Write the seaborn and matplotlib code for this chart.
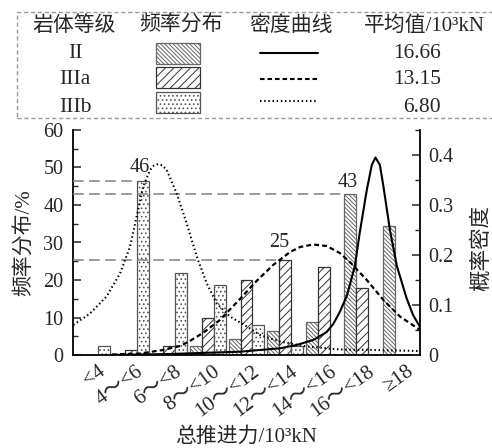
import numpy as np
import pandas as pd
import matplotlib
matplotlib.use('Agg')
import matplotlib.pyplot as plt
from matplotlib.patches import Rectangle
from matplotlib.lines import Line2D
import seaborn as sns

# ---------------- data ----------------
categories = ['<4', '4～<6', '6～<8', '8～<10', '10～<12', '12～<14', '14～<16', '16～<18', '≥18']
grades = ['II', 'IIIa', 'IIIb']
freq_II = [0, 0, 0, 2.5, 4.2, 6.4, 8.7, 42.8, 34.4]
freq_IIIa = [0, 1.3, 2.3, 9.9, 20.0, 25.3, 23.4, 17.8, 0]
freq_IIIb = [2.5, 46.4, 21.8, 18.8, 8.0, 2.4, 0, 0, 0]
mean_values = ['16.66', '13.15', '6.80']

# density curves (x in category-index units)
curve_II_x = [0.51, 2.02, 2.79, 3.83, 4.35, 4.87, 5.30, 5.73, 6.08, 6.25, 6.42, 6.60, 6.68,
              6.81, 6.94, 7.12, 7.25, 7.345, 7.46, 7.55, 7.72, 7.90, 8.15, 8.32, 8.50]
curve_II_y = [0.000, 0.002, 0.004, 0.0066, 0.010, 0.0134, 0.020, 0.030, 0.046, 0.062, 0.086,
              0.118, 0.140, 0.178, 0.246, 0.330, 0.380, 0.395, 0.380, 0.338, 0.250, 0.178,
              0.114, 0.080, 0.056]
curve_IIIa_x = [0.51, 1.24, 1.83, 2.28, 2.53, 2.87, 3.31, 3.83, 4.26, 4.69, 5.13, 5.39,
                5.73, 6.08, 6.42, 6.68, 7.12, 7.55, 7.98, 8.50]
curve_IIIa_y = [0.001, 0.003, 0.010, 0.018, 0.028, 0.044, 0.070, 0.112, 0.148, 0.180, 0.206,
                0.216, 0.221, 0.218, 0.204, 0.186, 0.150, 0.110, 0.077, 0.050]
curve_IIIb_x = [-0.49, -0.06, 0.37, 0.72, 0.98, 1.15, 1.32, 1.50, 1.60, 1.71, 1.82, 1.93,
                2.19, 2.45, 2.71, 2.97, 3.23, 3.57, 4.01, 4.35, 4.87, 5.56, 6.42, 7.28, 8.50]
curve_IIIb_y = [0.060, 0.083, 0.117, 0.163, 0.217, 0.277, 0.337, 0.370, 0.379, 0.382, 0.379,
                0.370, 0.323, 0.263, 0.197, 0.143, 0.103, 0.077, 0.057, 0.040, 0.027, 0.017,
                0.011, 0.010, 0.008]

# ---------------- style ----------------
sns.set_style('ticks')
plt.rcParams['font.family'] = ['Liberation Serif', 'Noto Sans CJK SC', 'DejaVu Sans']
plt.rcParams['hatch.linewidth'] = 0.7
plt.rcParams['axes.unicode_minus'] = False

W, H = 492, 448
fig = plt.figure(figsize=(W / 100, H / 100), dpi=100)
ax = fig.add_axes([73 / W, 1 - 355 / H, 347 / W, 225 / H])

df = pd.DataFrame({
    'cat': np.repeat(categories, 3),
    'grade': grades * len(categories),
    'val': np.ravel(np.column_stack([freq_II, freq_IIIa, freq_IIIb])),
})

sns.barplot(data=df, x='cat', y='val', hue='grade', order=categories, hue_order=grades,
            palette=['white'] * 3, width=0.93, gap=0, edgecolor='#444444', linewidth=0.9,
            legend=False, ax=ax, zorder=2)

hatches = {'II': '\\\\\\\\\\\\\\\\', 'IIIa': '////', 'IIIb': '....'}
hatch_colors = {'II': '#6a6a6a', 'IIIa': '#222222', 'IIIb': '#444444'}
edge_colors = {'II': '#666666', 'IIIa': '#333333', 'IIIb': '#555555'}
for g, cont in zip(grades, ax.containers):
    for p in cont:
        p.set_hatch(hatches[g])
        p.set_edgecolor(edge_colors[g])
        try:
            p.set_hatchcolor(hatch_colors[g])
        except Exception:
            pass

# peak annotations and grey dashed guides
label_offsets = {'II': (-2, 2), 'IIIa': (-4, 6), 'IIIb': (-2, 3)}
for g, cont, vals in zip(grades, ax.containers, [freq_II, freq_IIIa, freq_IIIb]):
    i = int(np.argmax(vals))
    p = cont[i]
    xc = p.get_x() + p.get_width() / 2
    h = p.get_height()
    ax.hlines(h, -0.5, p.get_x(), colors='#808080', linestyles=(0, (7, 3.5)), linewidth=1.1,
              zorder=3)
    ax.annotate(f'{int(round(vals[i]))}', (xc, h), xytext=label_offsets[g],
                textcoords='offset points', ha='center', va='bottom', fontsize=14.5, zorder=4)

ax.set_xlim(-0.5, 8.5)
ax.set_ylim(0, 60)
ax.set_yticks(np.arange(0, 61, 10))
ax.set_yticks(np.arange(0, 61, 5), minor=True)
# hidden x ticks; labels anchored slightly right of each group centre
ax.set_xticks(np.arange(len(categories)) + 0.42)
ax.set_xticklabels(categories, rotation=36, ha='right', va='top', fontsize=15)
ax.tick_params(axis='x', length=0, pad=5)
ax.tick_params(axis='y', which='major', direction='in', length=6, width=1.1, labelsize=14.5, pad=7)
ax.tick_params(axis='y', which='minor', direction='in', length=3.5, width=1.0)
for s in ['top', 'right']:
    ax.spines[s].set_visible(False)
for s in ['left', 'bottom']:
    ax.spines[s].set_linewidth(1.3)
    ax.spines[s].set_color('black')

ax.set_xlabel('总推进力/10³kN', fontsize=15)
ax.xaxis.set_label_coords(0.5, -0.365)
ax.xaxis.label.set_va('center')
ax.set_ylabel('频率分布/%', fontsize=15)
ax.yaxis.set_label_coords(-0.138, 0.5)
ax.yaxis.label.set_va('center')

# ---------------- density curves ----------------
ax2 = ax.twinx()
sns.lineplot(x=curve_II_x, y=curve_II_y, ax=ax2, color='black', linewidth=1.5, linestyle='-')
sns.lineplot(x=curve_IIIa_x, y=curve_IIIa_y, ax=ax2, color='black', linewidth=1.6,
             linestyle=(0, (2.2, 1.4)))
sns.lineplot(x=curve_IIIb_x, y=curve_IIIb_y, ax=ax2, color='black', linewidth=1.5,
             linestyle=(0, (0.7, 1.3)))
ax2.set_ylim(0, 0.45)
ax2.set_xlim(-0.5, 8.5)
ax2.set_yticks([0, 0.1, 0.2, 0.3, 0.4])
ax2.set_yticklabels(['0', '0.1', '0.2', '0.3', '0.4'])
ax2.set_yticks(np.arange(0, 0.451, 0.05), minor=True)
ax2.tick_params(axis='y', which='major', direction='in', length=6, width=1.1, labelsize=14.5, pad=6)
ax2.tick_params(axis='y', which='minor', direction='in', length=3.5, width=1.0)
for s in ['top', 'left', 'bottom']:
    ax2.spines[s].set_visible(False)
ax2.spines['right'].set_linewidth(1.3)
ax2.spines['right'].set_color('black')
ax2.set_xlabel('')
ax2.set_ylabel('概率密度', fontsize=15.5)
ax2.yaxis.set_label_coords(1.18, 0.476)
ax2.yaxis.label.set_va('center')
ax.set_xlim(-0.5, 8.5)

# ---------------- legend table ----------------
def fx(px):
    return px / W

def fy(py):
    return 1 - py / H

fig.patches.append(Rectangle((fx(17), fy(118)), fx(520) - fx(17), fy(12) - fy(118), fill=False,
                             edgecolor='#9a9a9a', linestyle=(0, (3, 2)), linewidth=1.0,
                             transform=fig.transFigure, figure=fig))
hdr_y = fy(26)
fig.text(fx(74), hdr_y, '岩体等级', ha='center', va='center', fontsize=15)
fig.text(fx(181), hdr_y, '频率分布', ha='center', va='center', fontsize=15)
fig.text(fx(291), hdr_y, '密度曲线', ha='center', va='center', fontsize=15)
fig.text(fx(424), hdr_y, '平均值/10³kN', ha='center', va='center', fontsize=15)

row_y = [53, 80, 107]
line_y = [53, 79, 101]
swatch_top = [42.7, 66.7, 91.7]
line_styles = ['-', (0, (2.2, 1.4)), (0, (0.7, 1.3))]
for i, g in enumerate(grades):
    fig.text(fx(75), fy(row_y[i]), g, ha='center', va='center', fontsize=15.5)
    r = Rectangle((fx(156), fy(swatch_top[i] + 21.5)), fx(200) - fx(156), 21.5 / H,
                  facecolor='white', edgecolor=edge_colors[g], hatch=hatches[g], linewidth=0.9,
                  transform=fig.transFigure, figure=fig)
    try:
        r.set_hatchcolor(hatch_colors[g])
    except Exception:
        pass
    fig.patches.append(r)
    fig.lines.append(Line2D([fx(260), fx(318)], [fy(line_y[i])] * 2, color='black',
                            linewidth=1.5, linestyle=line_styles[i],
                            transform=fig.transFigure, figure=fig))
    fig.text(fx(441), fy(row_y[i]), mean_values[i], ha='right', va='center', fontsize=15.5)

fig.savefig('out.png', dpi=100)
